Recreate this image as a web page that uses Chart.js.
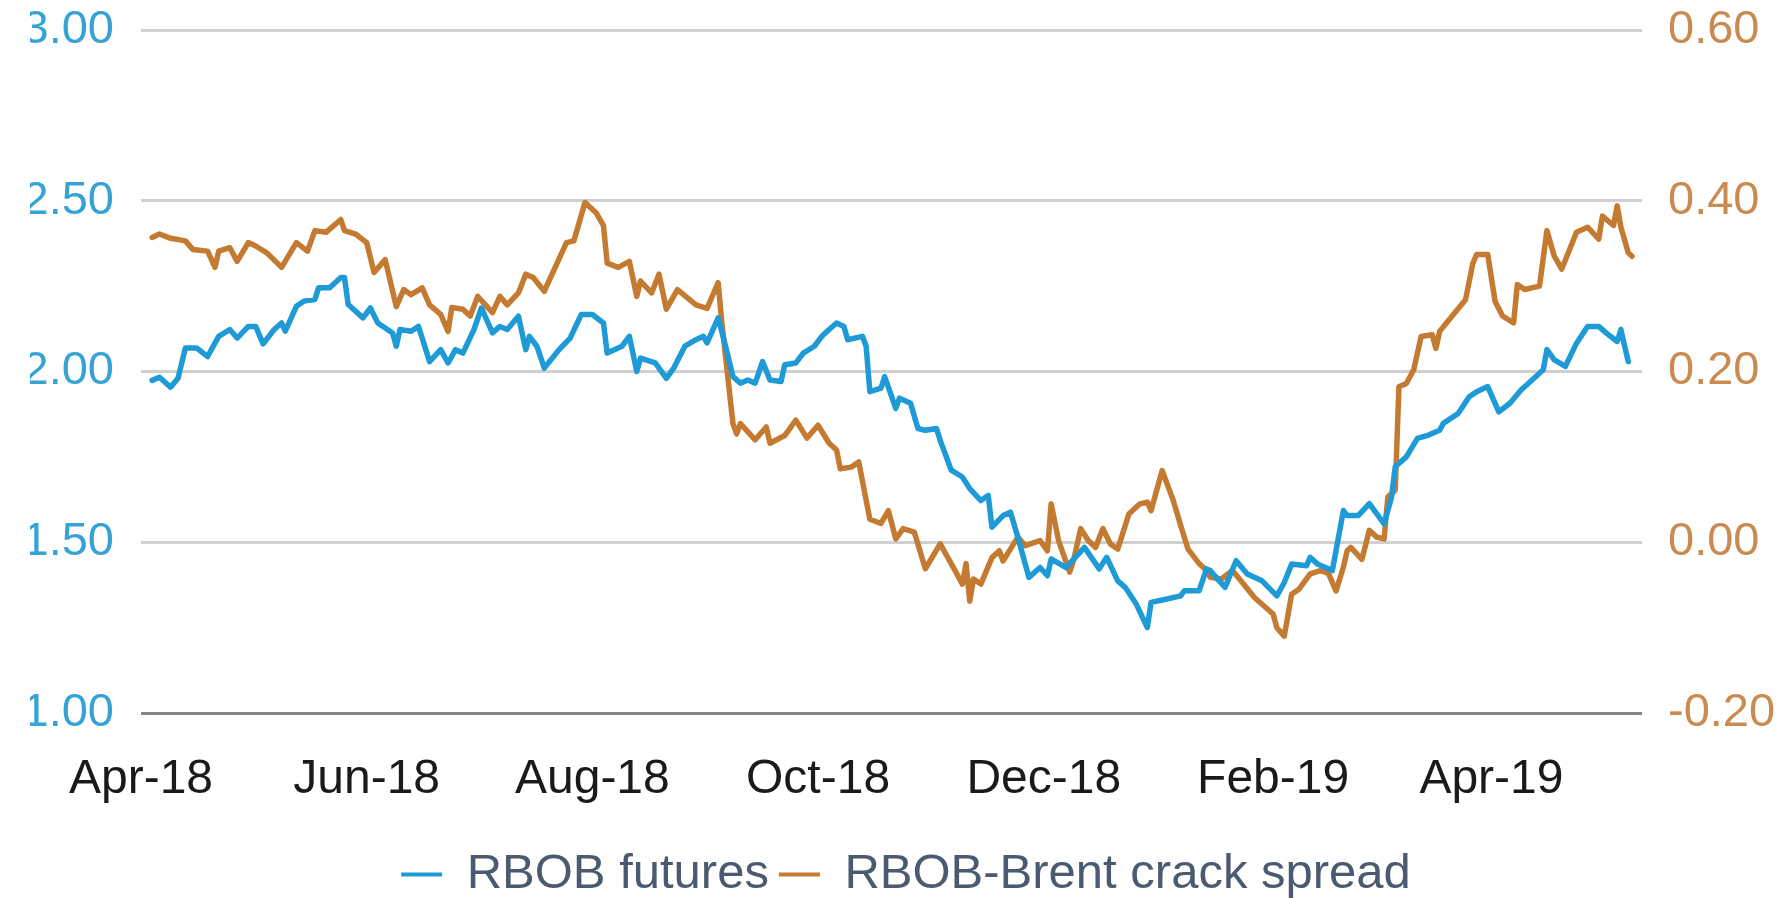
<!DOCTYPE html>
<html>
<head>
<meta charset="utf-8">
<script src="https://cdn.jsdelivr.net/npm/chart.js@4.4.1/dist/chart.umd.min.js"></script>
<style>
  html, body { margin: 0; padding: 0; background: #ffffff; }
  #wrap { width: 1782px; height: 898px; position: relative; }
</style>
</head>
<body>
<div id="wrap"><canvas id="c"></canvas></div>
<script>
// ---- Data ----
const tickDates  = ['2018-04-01','2018-06-01','2018-08-01','2018-10-01','2018-12-01','2019-02-01','2019-04-01'];
const tickLabels = ['Apr-18','Jun-18','Aug-18','Oct-18','Dec-18','Feb-19','Apr-19'];

const leftTicks  = [1.00, 1.50, 2.00, 2.50, 3.00];
const rightTicks = [-0.20, 0.00, 0.20, 0.40, 0.60];

const seriesNames = ['RBOB futures', 'RBOB-Brent crack spread'];

const rbobDates = ['2018-04-04','2018-04-06','2018-04-09','2018-04-11','2018-04-13','2018-04-16','2018-04-19','2018-04-22','2018-04-25','2018-04-27','2018-04-30',
'2018-05-02','2018-05-04','2018-05-07','2018-05-09','2018-05-10','2018-05-13','2018-05-15','2018-05-18','2018-05-19','2018-05-22','2018-05-25','2018-05-26','2018-05-27','2018-05-31',
'2018-06-02','2018-06-04','2018-06-08','2018-06-09','2018-06-10','2018-06-13','2018-06-15','2018-06-18','2018-06-21',
'2018-06-23','2018-06-25','2018-06-27','2018-06-30','2018-07-02','2018-07-05','2018-07-07','2018-07-09','2018-07-12','2018-07-14','2018-07-15','2018-07-17','2018-07-19','2018-07-23','2018-07-26','2018-07-29',
'2018-08-01','2018-08-04','2018-08-05','2018-08-09','2018-08-11','2018-08-13','2018-08-14','2018-08-18','2018-08-21','2018-08-23','2018-08-26','2018-08-29','2018-08-31','2018-09-01','2018-09-04','2018-09-06','2018-09-08','2018-09-10',
'2018-09-12','2018-09-14','2018-09-16','2018-09-18','2018-09-21','2018-09-22','2018-09-25','2018-09-27','2018-09-30','2018-10-02','2018-10-04','2018-10-06','2018-10-08','2018-10-09','2018-10-13','2018-10-14','2018-10-15','2018-10-18','2018-10-19','2018-10-22','2018-10-23','2018-10-26','2018-10-28','2018-10-30',
'2018-11-02','2018-11-03','2018-11-06','2018-11-09','2018-11-11','2018-11-14','2018-11-16','2018-11-17','2018-11-20','2018-11-22','2018-11-24','2018-11-27','2018-11-30',
'2018-12-02','2018-12-03','2018-12-07','2018-12-12','2018-12-16','2018-12-18','2018-12-21','2018-12-23','2018-12-26','2018-12-29','2018-12-30',
'2019-01-03','2019-01-07','2019-01-08','2019-01-12','2019-01-14','2019-01-15','2019-01-19','2019-01-22','2019-01-25','2019-01-29',
'2019-02-02','2019-02-04','2019-02-06','2019-02-10','2019-02-11','2019-02-13','2019-02-17','2019-02-20',
'2019-02-21','2019-02-24','2019-02-27','2019-03-03','2019-03-05','2019-03-06','2019-03-09','2019-03-12','2019-03-15','2019-03-18','2019-03-19','2019-03-23','2019-03-26','2019-03-28','2019-03-31',
'2019-04-03','2019-04-06','2019-04-09','2019-04-12','2019-04-15','2019-04-16','2019-04-18','2019-04-21','2019-04-24','2019-04-27','2019-04-30','2019-05-02','2019-05-05','2019-05-06','2019-05-07','2019-05-08'];

const rbobValues = [1.974,1.983,1.954,1.980,2.069,2.069,2.044,2.103,2.123,2.098,2.132,
2.132,2.081,2.123,2.142,2.118,2.191,2.206,2.211,2.245,2.245,2.275,2.275,2.196,2.157,
2.186,2.142,2.113,2.074,2.123,2.118,2.132,2.029,2.064,
2.025,2.064,2.054,2.123,2.186,2.113,2.132,2.123,2.162,2.064,2.103,2.074,2.010,2.064,2.098,2.167,
2.167,2.142,2.054,2.074,2.103,2.000,2.039,2.025,1.980,2.010,2.074,2.093,2.103,2.084,2.157,2.074,1.985,1.966,
1.975,1.966,2.029,1.975,1.971,2.020,2.025,2.054,2.074,2.103,2.123,2.142,2.132,2.093,2.103,2.074,1.941,1.951,1.985,1.892,1.922,1.907,1.833,1.828,
1.833,1.799,1.711,1.691,1.657,1.622,1.637,1.544,1.578,1.588,1.515,1.397,1.426,
1.402,1.451,1.426,1.485,1.422,1.456,1.387,1.368,1.319,1.250,1.324,
1.333,1.343,1.358,1.358,1.422,1.417,1.368,1.446,1.407,1.387,
1.343,1.382,1.436,1.431,1.456,1.436,1.417,1.593,
1.578,1.578,1.613,1.554,1.632,1.721,1.750,1.804,1.814,1.828,1.848,1.877,1.926,1.941,1.956,
1.882,1.907,1.946,1.975,2.005,2.064,2.034,2.015,2.083,2.132,2.132,2.113,2.088,2.123,2.074,2.029];

const crackDates = ['2018-04-04','2018-04-06','2018-04-09','2018-04-13','2018-04-15','2018-04-19','2018-04-21','2018-04-22','2018-04-25','2018-04-27','2018-04-30',
'2018-05-02','2018-05-05','2018-05-09','2018-05-13','2018-05-16','2018-05-18','2018-05-21','2018-05-25','2018-05-26','2018-05-29',
'2018-06-01','2018-06-03','2018-06-06','2018-06-09','2018-06-11','2018-06-13','2018-06-16','2018-06-18','2018-06-21',
'2018-06-23','2018-06-24','2018-06-27','2018-06-29','2018-07-01','2018-07-05','2018-07-07','2018-07-09','2018-07-12','2018-07-14','2018-07-16','2018-07-19','2018-07-25','2018-07-27','2018-07-30',
'2018-08-02','2018-08-04','2018-08-05','2018-08-08','2018-08-11','2018-08-13','2018-08-14','2018-08-17','2018-08-19','2018-08-21','2018-08-24','2018-08-29','2018-09-01','2018-09-04','2018-09-05','2018-09-08','2018-09-09','2018-09-10',
'2018-09-14','2018-09-17','2018-09-18','2018-09-22','2018-09-25','2018-09-28','2018-10-01','2018-10-04','2018-10-06','2018-10-07','2018-10-10','2018-10-12','2018-10-15','2018-10-18','2018-10-20','2018-10-22','2018-10-24','2018-10-27','2018-10-30',
'2018-11-03','2018-11-07','2018-11-09','2018-11-10','2018-11-11','2018-11-12','2018-11-14','2018-11-17','2018-11-19','2018-11-20','2018-11-22','2018-11-24','2018-11-26','2018-11-30',
'2018-12-02','2018-12-03','2018-12-05','2018-12-08','2018-12-09','2018-12-11','2018-12-13','2018-12-15','2018-12-17','2018-12-19','2018-12-21','2018-12-24','2018-12-27','2018-12-29','2018-12-30',
'2019-01-02','2019-01-05','2019-01-07','2019-01-09','2019-01-12','2019-01-14','2019-01-15','2019-01-18','2019-01-21','2019-01-24','2019-01-27',
'2019-02-01','2019-02-02','2019-02-04','2019-02-06','2019-02-08','2019-02-11','2019-02-14','2019-02-16','2019-02-18','2019-02-20',
'2019-02-21','2019-02-22','2019-02-25','2019-02-27','2019-03-01','2019-03-03','2019-03-04','2019-03-06','2019-03-07','2019-03-09','2019-03-11','2019-03-13','2019-03-16','2019-03-17','2019-03-18','2019-03-21','2019-03-25','2019-03-27','2019-03-28','2019-03-31',
'2019-04-02','2019-04-04','2019-04-07','2019-04-08','2019-04-10','2019-04-14','2019-04-16','2019-04-18','2019-04-20','2019-04-24','2019-04-27','2019-04-30','2019-05-01','2019-05-04','2019-05-05','2019-05-06','2019-05-08','2019-05-09'];

const crackValues = [0.357,0.361,0.356,0.353,0.343,0.341,0.322,0.341,0.345,0.329,0.351,
0.347,0.339,0.322,0.351,0.341,0.365,0.363,0.378,0.365,0.361,
0.351,0.316,0.331,0.276,0.296,0.290,0.298,0.278,0.267,
0.247,0.275,0.273,0.265,0.288,0.269,0.288,0.278,0.292,0.314,0.310,0.294,0.351,0.353,0.398,
0.386,0.371,0.327,0.322,0.329,0.288,0.306,0.292,0.314,0.273,0.296,0.278,0.274,0.304,0.257,0.139,0.127,0.139,
0.120,0.135,0.116,0.125,0.143,0.122,0.137,0.116,0.108,0.086,0.088,0.094,0.027,0.022,0.037,0.004,0.016,0.012,-0.031,
-0.002,-0.033,-0.049,-0.025,-0.069,-0.043,-0.049,-0.018,-0.010,-0.022,-0.008,0.006,-0.004,0.002,
-0.010,0.045,0.002,-0.035,-0.022,0.016,0.002,-0.006,0.016,-0.002,-0.008,0.033,0.045,0.047,0.037,
0.084,0.049,0.020,-0.008,-0.025,-0.033,-0.041,-0.043,-0.033,-0.049,-0.065,
-0.084,-0.100,-0.110,-0.061,-0.055,-0.037,-0.033,-0.037,-0.057,-0.029,
-0.010,-0.006,-0.020,0.014,0.006,0.004,0.053,0.061,0.182,0.186,0.202,0.241,0.243,0.227,0.247,0.263,0.284,0.327,0.337,0.337,
0.282,0.265,0.257,0.302,0.296,0.300,0.365,0.335,0.320,0.363,0.369,0.355,0.382,0.371,0.394,0.369,0.339,0.335];

// ---- helpers ----
const BASE = Date.UTC(2018, 3, 1);
function dayNum(s) {
  const p = s.split('-').map(Number);
  return (Date.UTC(p[0], p[1] - 1, p[2]) - BASE) / 86400000;
}
const tickDays = tickDates.map(dayNum);
const rbobPts  = rbobDates.map((d, i) => ({ x: dayNum(d), y: rbobValues[i] }));
const crackPts = crackDates.map((d, i) => ({ x: dayNum(d), y: crackValues[i] }));

const FONT = "'Liberation Sans', Arial, sans-serif";
const BLUE = '#1e9ad6';
const ORANGE = '#c57a31';

function noVerticalPadding(scale) {
  scale.paddingTop = 0;
  scale.paddingBottom = 0;
}

new Chart(document.getElementById('c'), {
  type: 'line',
  data: {
    datasets: [
      { label: seriesNames[0], data: rbobPts, yAxisID: 'y',
        borderColor: BLUE, backgroundColor: BLUE, borderWidth: 5.5,
        pointRadius: 0, tension: 0, borderJoinStyle: 'round', borderCapStyle: 'round' },
      { label: seriesNames[1], data: crackPts, yAxisID: 'y1',
        borderColor: ORANGE, backgroundColor: ORANGE, borderWidth: 5.5,
        pointRadius: 0, tension: 0, borderJoinStyle: 'round', borderCapStyle: 'round' }
    ]
  },
  options: {
    responsive: true,
    maintainAspectRatio: false,
    animation: false,
    layout: { padding: { top: 30, left: 30, right: 0, bottom: -11 } },
    plugins: {
      tooltip: { enabled: false },
      legend: {
        position: 'bottom',
        labels: {
          font: { family: FONT, size: 49 },
          color: '#4a5a70',
          boxWidth: 41,
          boxHeight: 4,
          padding: 10,
          generateLabels(chart) {
            const items = Chart.defaults.plugins.legend.labels.generateLabels(chart);
            items.forEach(it => { it.lineWidth = 0; });
            return items;
          }
        }
      }
    },
    scales: {
      x: {
        type: 'linear',
        min: 0,
        max: 405.7,
        grid: { display: false },
        border: { display: false },
        afterBuildTicks(scale) { scale.ticks = tickDays.map(v => ({ value: v })); },
        afterFit(scale) { scale.height = 127; },
        ticks: {
          autoSkip: false,
          maxRotation: 0,
          padding: 30,
          color: '#1a1a1a',
          font: { family: FONT, size: 48 },
          callback: (v, i) => tickLabels[i]
        }
      },
      y: {
        position: 'left',
        min: 1, max: 3,
        afterBuildTicks(scale) { scale.ticks = leftTicks.map(v => ({ value: v })); },
        afterFit(scale) { scale.width = 111; noVerticalPadding(scale); },
        grid: {
          drawTicks: false,
          lineWidth: 3,
          color: ctx => (ctx.tick && ctx.tick.value === 1) ? '#858585' : '#d0d0d0'
        },
        border: { display: false },
        ticks: {
          padding: 27,
          color: '#35a3d4',
          font: { family: FONT, size: 47 },
          callback: v => v.toFixed(2)
        }
      },
      y1: {
        position: 'right',
        min: -0.2, max: 0.6,
        afterBuildTicks(scale) { scale.ticks = rightTicks.map(v => ({ value: v })); },
        afterFit(scale) { scale.width = 140; noVerticalPadding(scale); },
        grid: { display: false, drawTicks: false },
        border: { display: false },
        ticks: {
          padding: 26,
          color: '#c98b4f',
          font: { family: FONT, size: 47 },
          callback: v => v.toFixed(2)
        }
      }
    }
  }
});
</script>
</body>
</html>
